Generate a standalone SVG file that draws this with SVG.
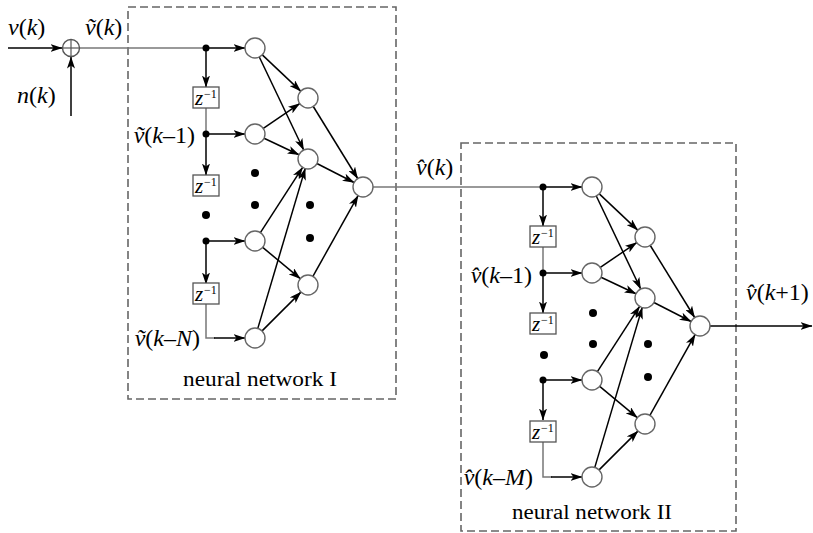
<svg xmlns="http://www.w3.org/2000/svg" width="813" height="533" viewBox="0 0 813 533">
<defs>
<marker id="ah" viewBox="0 0 12 8" refX="11.5" refY="4" markerWidth="12" markerHeight="8" markerUnits="userSpaceOnUse" orient="auto">
<path d="M0,0 L12,4 L0,8 L3,4 z" fill="#000"/>
</marker>
<style>
.frame{fill:none;stroke:#666;stroke-width:1.6;stroke-dasharray:8 4}
.arr{stroke:#000;stroke-width:1.5;fill:none;marker-end:url(#ah)}
.gl{stroke:#777;stroke-width:1.5;fill:none}
.nd{fill:#fff;stroke:#666;stroke-width:1.4}
.dot{fill:#000}
.bx{fill:#fff;stroke:#555;stroke-width:1.3}
text{font-family:'Liberation Serif','Times New Roman',serif;fill:#000}
.m{font-size:24px}
.i{font-style:italic}
.z{font-size:21px;font-style:italic}
.sup{font-size:12px}
.cap{font-size:20px}
</style>
</defs>

<rect width="813" height="533" fill="#fff"/>

<g id="frames">
<rect class="frame" x="128" y="7" width="268" height="392"/>
<rect class="frame" x="461" y="143" width="275" height="388"/>
</g>

<g id="connectors">
<line class="arr" x1="8" y1="48" x2="62" y2="48"/>
<line class="arr" x1="71" y1="116" x2="71" y2="57"/>
<line class="gl" x1="80" y1="48" x2="206" y2="48"/>
<line class="arr" x1="206" y1="48" x2="245" y2="48"/>
<line class="arr" x1="206" y1="48" x2="206" y2="87"/>
<line class="gl" x1="206" y1="108" x2="206" y2="134"/>
<line class="arr" x1="206" y1="134" x2="245" y2="134"/>
<line class="arr" x1="206" y1="134" x2="206" y2="175"/>
<line class="arr" x1="206" y1="241" x2="245" y2="241"/>
<line class="arr" x1="206" y1="241" x2="206" y2="284"/>
<path class="gl" d="M206,304 V338 H215"/>
<line class="arr" x1="214" y1="338" x2="245" y2="338"/>
<line class="arr" x1="262.3" y1="54.9" x2="300.7" y2="91.1"/>
<line class="arr" x1="259.3" y1="57.0" x2="303.7" y2="150.0"/>
<line class="arr" x1="263.3" y1="128.4" x2="299.7" y2="103.6"/>
<line class="arr" x1="264.0" y1="138.3" x2="299.0" y2="154.7"/>
<line class="arr" x1="260.4" y1="232.6" x2="302.6" y2="167.4"/>
<line class="arr" x1="262.7" y1="247.4" x2="300.3" y2="278.6"/>
<line class="arr" x1="257.8" y1="328.4" x2="305.2" y2="168.6"/>
<line class="arr" x1="262.1" y1="330.9" x2="300.9" y2="292.1"/>
<line class="arr" x1="313.3" y1="106.5" x2="357.7" y2="178.5"/>
<line class="arr" x1="316.9" y1="163.5" x2="354.1" y2="182.5"/>
<line class="arr" x1="312.9" y1="276.3" x2="358.1" y2="195.7"/>
<line class="gl" x1="373" y1="187" x2="543" y2="187"/>
<line class="arr" x1="543" y1="187" x2="582" y2="187"/>
<line class="arr" x1="543" y1="187" x2="543" y2="226"/>
<line class="gl" x1="543" y1="247" x2="543" y2="273"/>
<line class="arr" x1="543" y1="273" x2="582" y2="273"/>
<line class="arr" x1="543" y1="273" x2="543" y2="313"/>
<line class="arr" x1="543" y1="380" x2="582" y2="380"/>
<line class="arr" x1="543" y1="380" x2="543" y2="420"/>
<path class="gl" d="M543,442 V477 H552"/>
<line class="arr" x1="551" y1="477" x2="582" y2="477"/>
<line class="arr" x1="599.3" y1="193.9" x2="637.7" y2="230.1"/>
<line class="arr" x1="596.3" y1="196.0" x2="640.7" y2="289.0"/>
<line class="arr" x1="600.3" y1="267.4" x2="636.7" y2="242.6"/>
<line class="arr" x1="601.0" y1="277.3" x2="636.0" y2="293.7"/>
<line class="arr" x1="597.4" y1="371.6" x2="639.6" y2="306.4"/>
<line class="arr" x1="599.7" y1="386.4" x2="637.3" y2="417.6"/>
<line class="arr" x1="594.8" y1="467.4" x2="642.2" y2="307.6"/>
<line class="arr" x1="599.1" y1="469.9" x2="637.9" y2="431.1"/>
<line class="arr" x1="650.3" y1="245.5" x2="694.7" y2="317.5"/>
<line class="arr" x1="653.9" y1="302.5" x2="691.1" y2="321.5"/>
<line class="arr" x1="649.9" y1="415.3" x2="695.1" y2="334.7"/>
<line class="arr" x1="710" y1="326" x2="812" y2="326"/>
</g>

<g id="sum">
<circle cx="71" cy="48" r="8.5" fill="#fff" stroke="#555" stroke-width="1.4"/>
<line x1="62.5" y1="48" x2="79.5" y2="48" stroke="#555" stroke-width="1.2"/>
<line x1="71" y1="39.5" x2="71" y2="56.5" stroke="#555" stroke-width="1.2"/>
</g>

<g id="delay-I-1"><rect class="bx" x="193" y="87" width="26" height="21"/><text class="z" x="195" y="105">z</text><text class="sup" x="204" y="98">−1</text></g>
<g id="delay-I-2"><rect class="bx" x="193" y="175" width="26" height="21"/><text class="z" x="195" y="193">z</text><text class="sup" x="204" y="186">−1</text></g>
<g id="delay-I-3"><rect class="bx" x="193" y="283" width="26" height="21"/><text class="z" x="195" y="301">z</text><text class="sup" x="204" y="294">−1</text></g>
<g id="delay-II-1"><rect class="bx" x="530" y="226" width="26" height="21"/><text class="z" x="532" y="244">z</text><text class="sup" x="541" y="237">−1</text></g>
<g id="delay-II-2"><rect class="bx" x="530" y="313" width="26" height="21"/><text class="z" x="532" y="331">z</text><text class="sup" x="541" y="324">−1</text></g>
<g id="delay-II-3"><rect class="bx" x="530" y="421" width="26" height="21"/><text class="z" x="532" y="439">z</text><text class="sup" x="541" y="432">−1</text></g>

<g id="dots">
<circle class="dot" cx="206" cy="48" r="3.5"/>
<circle class="dot" cx="206" cy="134" r="3.5"/>
<circle class="dot" cx="206" cy="241" r="3.5"/>
<circle class="dot" cx="206" cy="215" r="4"/>
<circle class="dot" cx="255" cy="173" r="4"/>
<circle class="dot" cx="255" cy="205" r="4"/>
<circle class="dot" cx="310" cy="205" r="4"/>
<circle class="dot" cx="310" cy="238" r="4"/>
<circle class="dot" cx="543" cy="187" r="3.5"/>
<circle class="dot" cx="543" cy="273" r="3.5"/>
<circle class="dot" cx="543" cy="380" r="3.5"/>
<circle class="dot" cx="544" cy="355" r="4"/>
<circle class="dot" cx="593" cy="313" r="4"/>
<circle class="dot" cx="593" cy="344" r="4"/>
<circle class="dot" cx="648" cy="344" r="4"/>
<circle class="dot" cx="648" cy="377" r="4"/>
</g>

<g id="I-in1"><circle class="nd" cx="255" cy="48" r="10"/></g>
<g id="I-in2"><circle class="nd" cx="255" cy="134" r="10"/></g>
<g id="I-in3"><circle class="nd" cx="255" cy="241" r="10"/></g>
<g id="I-in4"><circle class="nd" cx="255" cy="338" r="10"/></g>
<g id="I-h1"><circle class="nd" cx="308" cy="98" r="10"/></g>
<g id="I-h2"><circle class="nd" cx="308" cy="159" r="10"/></g>
<g id="I-h3"><circle class="nd" cx="308" cy="285" r="10"/></g>
<g id="I-out"><circle class="nd" cx="363" cy="187" r="10"/></g>

<g id="II-in1"><circle class="nd" cx="592" cy="187" r="10"/></g>
<g id="II-in2"><circle class="nd" cx="592" cy="273" r="10"/></g>
<g id="II-in3"><circle class="nd" cx="592" cy="380" r="10"/></g>
<g id="II-in4"><circle class="nd" cx="592" cy="477" r="10"/></g>
<g id="II-h1"><circle class="nd" cx="645" cy="237" r="10"/></g>
<g id="II-h2"><circle class="nd" cx="645" cy="298" r="10"/></g>
<g id="II-h3"><circle class="nd" cx="645" cy="424" r="10"/></g>
<g id="II-out"><circle class="nd" cx="700" cy="326" r="10"/></g>

<g id="labels">
<text class="m" x="8" y="35"><tspan class="i">v</tspan>(<tspan class="i">k</tspan>)</text>
<text class="m" x="85" y="35"><tspan class="i">ṽ</tspan>(<tspan class="i">k</tspan>)</text>
<text class="m" x="17" y="103"><tspan class="i">n</tspan>(<tspan class="i">k</tspan>)</text>
<text class="m" x="195" y="143" text-anchor="end"><tspan class="i">ṽ</tspan>(<tspan class="i">k</tspan>–1)</text>
<text class="m" x="200" y="346" text-anchor="end"><tspan class="i">ṽ</tspan>(<tspan class="i">k</tspan>–<tspan class="i">N</tspan>)</text>
<text class="m" x="416" y="175"><tspan class="i">v̂</tspan>(<tspan class="i">k</tspan>)</text>
<text class="m" x="532" y="283" text-anchor="end"><tspan class="i">v̂</tspan>(<tspan class="i">k</tspan>–1)</text>
<text class="m" x="533" y="485" text-anchor="end"><tspan class="i">v̂</tspan>(<tspan class="i">k</tspan>–<tspan class="i">M</tspan>)</text>
<text class="m" x="746" y="300"><tspan class="i">v̂</tspan>(<tspan class="i">k</tspan>+1)</text>
<text class="cap" x="183" y="386" textLength="154" lengthAdjust="spacingAndGlyphs">neural network I</text>
<text class="cap" x="512" y="519" textLength="160" lengthAdjust="spacingAndGlyphs">neural network II</text>
</g>
</svg>
